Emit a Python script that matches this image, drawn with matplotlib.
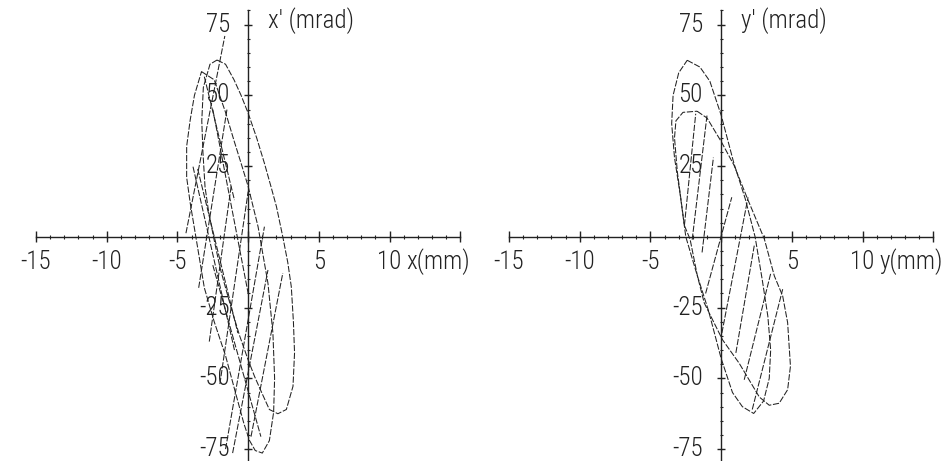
import matplotlib
matplotlib.use('Agg')
import matplotlib.pyplot as plt
from matplotlib import font_manager

# axis ticks / labels
x_major = [-15, -10, -5, 0, 5, 10, 15]
x_minor = list(range(-15, 16))
x_labels = [-15, -10, -5, 5, 10]
y_major = [-75, -50, -25, 25, 50, 75]
y_minor = list(range(-80, 81, 5))
y_labels = [75, 50, 25, -25, -50, -75]

# left panel: x - x'
ellA_x_x = [-2.2, -1.6, -1.0, -0.5, 0.0, 0.6, 1.15, 1.6, 2.0, 2.45, 2.8, 3.05, 3.2, 3.28, 3.17, 2.7, 2.1,
            1.5, 1.0, 0.45, 0.0, -0.6, -1.15, -1.6, -2.0, -2.45, -2.8, -3.05, -3.2, -3.28, -3.17, -2.7, -2.2]
ellA_x_y = [62.5, 61.0, 55.5, 50.0, 43.7, 35.0, 26.0, 18.0, 10.7, 0.0, -9.0, -17.6, -30.0, -41.0, -52.8, -61.0, -62.5,
            -61.0, -55.5, -49.3, -43.5, -35.0, -26.0, -18.0, -10.7, 0.0, 9.0, 17.6, 30.0, 41.0, 52.8, 61.0, 62.5]
ellB_x_x = [-3.3, -2.4, -1.6, -1.0, -0.5, 0.0, 0.7, 1.4, 1.75, 1.87, 1.8, 1.5, 1.0, 0.5, 0.1, -0.3, -0.9,
            -1.6, -2.4, -3.1, -3.7, -4.1, -4.35, -4.35, -4.1, -3.8, -3.3]
ellB_x_y = [58.4, 55.5, 44.0, 34.0, 26.0, 17.8, 3.6, -16.4, -34.0, -50.0, -62.0, -72.0, -76.4, -75.5, -72.0, -66.0, -55.0,
            -42.0, -30.0, -18.0, 0.0, 12.0, 21.0, 32.0, 41.3, 50.0, 58.4]
hatch_x_x0 = [-4.4, -3.5, -2.75, -2.0, -1.6, -1.1, 0.2, -2.5, -3.57, -2.5, -3.1, -3.9]
hatch_x_y0 = [1.3, -18.0, -37.0, -52.0, -75.0, -76.4, -70.6, 45.0, 24.0, -10.0, 56.6, 24.8]
hatch_x_x1 = [-1.65, -1.5, -1.2, 0.0, 1.15, 1.4, 2.45, 0.0, -0.73, 0.9, -0.97, -0.97]
hatch_x_y1 = [71.0, 45.0, 18.0, 16.0, 3.6, -11.7, -12.8, -20.0, -34.0, -70.6, 13.0, -40.0]

# right panel: y - y'
ellA_y_x = [-2.4, -1.5, -0.8, 0.0, 0.9, 1.7, 2.4, 2.9, 3.3, 3.5, 3.4, 3.0, 2.3, 1.5, 0.8, 0.0,
            -0.9, -1.7, -2.5, -2.9, -3.3, -3.5, -3.4, -3.0, -2.4]
ellA_y_y = [62.4, 60.0, 55.0, 43.0, 26.0, 13.5, 0.0, -15.0, -28.0, -40.0, -50.0, -58.0, -62.4, -60.0, -55.0, -43.0,
            -26.0, -13.5, 0.0, 15.0, 28.0, 40.0, 50.0, 58.0, 62.4]
ellB_y_x = [-1.7, -1.0, 0.0, 0.9, 1.9, 3.05, 3.76, 4.35, 4.7, 4.9, 4.7, 4.1, 3.4, 2.7, 1.28, 0.1, -0.5,
            -1.2, -1.68, -2.2, -2.6, -3.1, -3.3, -3.2, -2.7, -1.7]
ellB_y_y = [44.4, 42.0, 33.7, 25.4, 13.0, -0.7, -13.8, -20.9, -30.3, -45.7, -54.0, -58.8, -59.5, -56.6, -44.7, -36.4, -30.4,
            -23.3, -13.8, -0.8, 4.0, 23.0, 35.0, 41.0, 44.0, 44.4]
hatch_y_x0 = [-2.6, -2.05, -1.35, -1.1, 0.05, 1.04, 1.63, 2.2]
hatch_y_y0 = [4.0, -1.0, -5.5, -20.0, -34.0, -41.0, -50.5, -61.0]
hatch_y_x1 = [-1.8, -1.0, -0.55, 0.75, 1.9, 2.34, 3.52, 4.35]
hatch_y_y1 = [43.5, 43.0, 28.0, 14.0, 14.0, -3.1, -12.6, -18.5]

# pick a narrow font if there is one
fonts = font_manager.fontManager.ttflist
names = {f.name for f in fonts}
fam, stretch, fsize = 'DejaVu Sans', 'normal', 14
for cand in ['Liberation Sans Narrow', 'Roboto Condensed', 'Open Sans Condensed']:
    if cand in names:
        fam, fsize = cand, 18
        break
else:
    if any(f.name == 'DejaVu Sans' and f.stretch == 'condensed' for f in fonts):
        stretch, fsize = 'condensed', 15

ink = '#222222'
dash = (0, (6, 1.6))
tkw = dict(family=fam, stretch=stretch, fontsize=fsize, color=ink, fontweight='light')

fig = plt.figure(figsize=(9.46, 4.61), dpi=100)


def panel(left, curves, hx0, hy0, hx1, hy1, xname, yname):
    ax = fig.add_axes([left, 0, 0.5, 1])
    ax.set_xlim(-17.55, 15.9)
    ax.set_ylim(-79.2, 83.7)
    ax.axis('off')
    # axes through the origin
    ax.plot([-15, 15], [0, 0], color=ink, lw=1.0)
    ax.plot([0, 0], [-80, 80], color=ink, lw=1.0)
    ax.vlines(x_minor, -0.8, 0.8, color=ink, lw=0.8)
    ax.vlines(x_major, -1.9, 1.9, color=ink, lw=1.0)
    ax.hlines(y_minor, -0.1, 0.1, color=ink, lw=0.8)
    ax.hlines(y_major, -0.3, 0.3, color=ink, lw=1.0)
    for v in x_labels:
        ax.text(v, -8.8, str(v), ha='center', va='center', **tkw)
    for v in y_labels:
        ax.text(-1.3, v, str(v), ha='right', va='center', **tkw)
    ax.text(11.2, -8.8, xname, ha='left', va='center', **tkw)
    ax.text(1.4, 76.5, yname, ha='left', va='center', **tkw)
    for cx, cy in curves:
        ax.plot(cx, cy, color=ink, lw=0.75, ls=dash)
    for a, b, c, d in zip(hx0, hy0, hx1, hy1):
        ax.plot([a, c], [b, d], color=ink, lw=0.75, ls=dash)


panel(0.0, [(ellA_x_x, ellA_x_y), (ellB_x_x, ellB_x_y)],
      hatch_x_x0, hatch_x_y0, hatch_x_x1, hatch_x_y1, 'x(mm)', "x' (mrad)")
panel(0.5, [(ellA_y_x, ellA_y_y), (ellB_y_x, ellB_y_y)],
      hatch_y_x0, hatch_y_y0, hatch_y_x1, hatch_y_y1, 'y(mm)', "y' (mrad)")

fig.savefig('out.png', dpi=100, facecolor='white')
